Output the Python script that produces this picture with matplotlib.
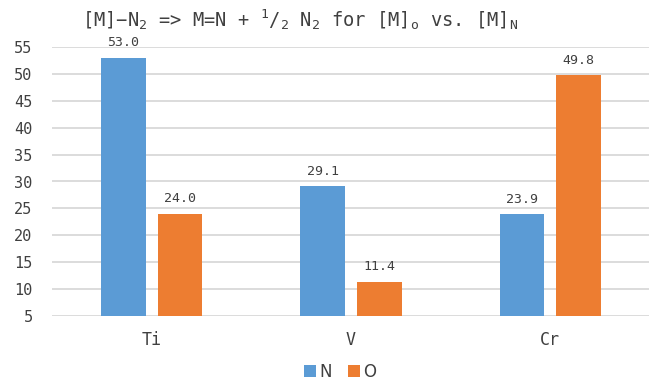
import matplotlib
matplotlib.use("Agg")
import matplotlib.pyplot as plt
import numpy as np
from matplotlib.patches import Patch

categories = ["Ti", "V", "Cr"]
series_names = ["N", "O"]
values_N = [53.0, 29.1, 23.9]
values_O = [24.0, 11.4, 49.8]
yticks = [5, 10, 15, 20, 25, 30, 35, 40, 45, 50, 55]

colors = {"N": "#5B9BD5", "O": "#ED7D31"}
text_color = "#404040"
grid_color = "#D9D9D9"

plt.rcParams["mathtext.fontset"] = "custom"
plt.rcParams["mathtext.rm"] = "DejaVu Sans Mono"
plt.rcParams["mathtext.it"] = "DejaVu Sans Mono"

fig = plt.figure(figsize=(6.49, 3.85), dpi=100)
ax = fig.add_axes([52/649, (385-316)/385, (650-52)/649, (316-47)/385])

x = np.arange(len(categories))
w = 0.225
off = 0.1425
bars_n = ax.bar(x - off, values_N, w, color=colors["N"], bottom=0, zorder=3)
bars_o = ax.bar(x + off, values_O, w, color=colors["O"], bottom=0, zorder=3)

for bars, vals in ((bars_n, values_N), (bars_o, values_O)):
    for b, v in zip(bars, vals):
        ax.annotate(f"{v:.1f}", (b.get_x() + b.get_width()/2, v),
                    xytext=(0, 6), textcoords="offset points",
                    ha="center", va="bottom", fontsize=9.5,
                    family="DejaVu Sans Mono", color=text_color)

ax.set_xlim(-0.5, 2.5)
ax.set_ylim(5, 55)
ax.set_yticks(yticks)
ax.set_xticks(x)
ax.set_xticklabels(categories, family="DejaVu Sans Mono", fontsize=12, color=text_color)
ax.set_yticklabels([str(t) for t in yticks], family="DejaVu Sans Mono", fontsize=11, color=text_color)
ax.tick_params(axis="x", length=0, pad=11)
ax.tick_params(axis="y", length=0, pad=14)
ax.grid(axis="y", color=grid_color, linewidth=1.3, zorder=0)
for s in ax.spines.values():
    s.set_visible(False)

title = (r"[M]$-$N$_2$ => M=N + $^1$/$_2$ N$_2$ for [M]$_\mathrm{o}$ vs. [M]$_\mathrm{N}$")
fig.text(82/649, 1 - 27/385, title, ha="left", va="baseline",
         fontsize=13.5, family="DejaVu Sans Mono", color=text_color)

handles = [Patch(facecolor=colors[n], edgecolor="none") for n in series_names]
fig.legend(handles, series_names, loc="center", bbox_to_anchor=(340/649, 1 - 372/385),
           ncol=2, frameon=False, handlelength=0.7, handleheight=0.7,
           handletextpad=0.2, columnspacing=1.0, fontsize=12,
           labelcolor=text_color)

fig.savefig("out.png", dpi=100)
